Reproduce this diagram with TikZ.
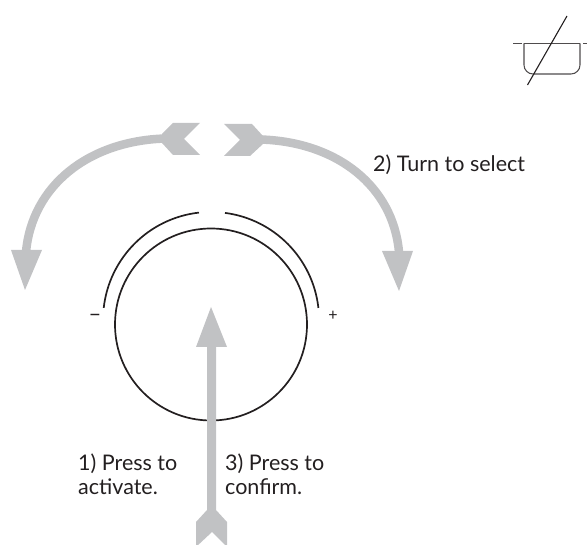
\documentclass[tikz,border=0pt]{standalone}
\usepackage{fontspec}
\setmainfont{Lato}
\definecolor{arrowgray}{HTML}{C1C2C4}
\definecolor{inkblack}{HTML}{231F20}
\tikzset{
  grayshaft/.style={draw=arrowgray,line width=8.5pt},
  grayhead/.style={fill=arrowgray,draw=none},
  inkline/.style={draw=inkblack,line width=1.7pt},
  symline/.style={draw=inkblack!80,line width=1.05pt},
  label/.style={inner sep=0pt,anchor=base west,text=inkblack,font=\fontsize{21.5}{24}\selectfont,align=left},
  smalllabel/.style={inner sep=0pt,anchor=base,text=inkblack,font=\fontsize{16}{16}\selectfont}
}
\begin{document}
\begin{tikzpicture}[x=1pt,y=-1pt]
\useasboundingbox (0,0) rectangle (587,545);
% gray turn arrows
\draw[grayshaft] (165,138.5) .. controls (88,141) and (32,186) .. (26,252);
\draw[grayshaft] (261,139.5) .. controls (337,142) and (393,186) .. (399,252);
\fill[grayhead] (11,250) -- (42,250) -- (25,290) -- cycle;
\fill[grayhead] (382,251) -- (413,251) -- (399,291) -- cycle;
\fill[grayhead] (200,123) -- (173,123) -- (162,134) -- (162,143) -- (173,155) -- (200,155) -- (184,139) -- cycle;
\fill[grayhead] (224,124) -- (252,124) -- (263,136) -- (263,144) -- (250,156) -- (224,156) -- (240,140) -- cycle;
% dial
\node[circle,inkline,minimum size=192pt,inner sep=0pt] (dial) at (211,324.5) {};
\draw[inkline] (199,212.6) arc[start angle=96.4,end angle=173.6,x radius=108,y radius=-108];
\draw[inkline] (225,212.9) arc[start angle=82.6,end angle=6.4,x radius=108,y radius=-108];
% press arrow
\fill[grayhead] (211,307) -- (227,347) -- (216,347) -- (216,510) -- (227,522) -- (227,547) -- (212,532) -- (196,547) -- (196,522) -- (207,510) -- (207,347) -- (196,347) -- cycle;
% labels
\node[smalllabel,font=\fontsize{22}{22}\selectfont] (minus) at (95,321.5) {–};
\node[smalllabel] (plus) at (333,320.5) {+};
\node[label] (turn) at (373,172) {2) Turn to select};
\node[label] (press) at (78,494.5) {1) Press to\\activate.};
\node[label] (confirm) at (225,494.5) {3) Press to\\confirm.};
% symbol
\draw[symline,rounded corners=9pt] (524,43.5) -- (524,74) -- (580,74) -- (580,43.5);
\draw[symline] (524,43.5) -- (580,43.5);
\draw[symline] (513,43.5) -- (522,43.5);
\draw[symline] (583,43.5) -- (587,43.5);
\draw[inkline,line width=1.1pt] (567,16) -- (527.5,85);
\end{tikzpicture}
\end{document}
